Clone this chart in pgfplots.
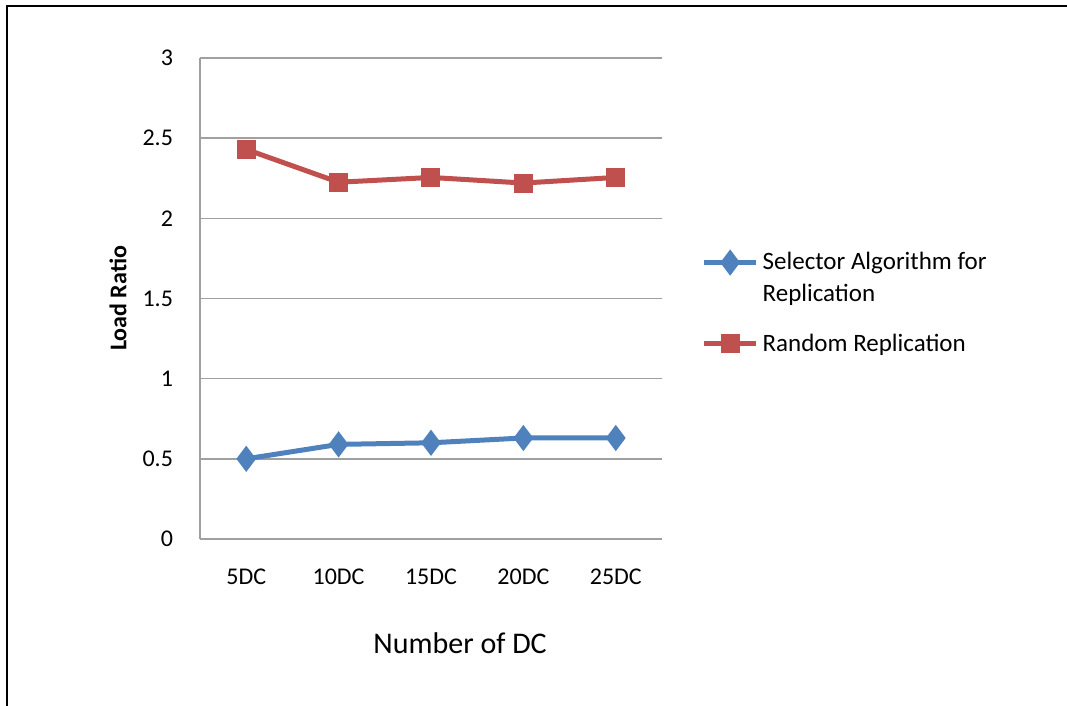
\documentclass[border=0pt]{standalone}
\usepackage{fontspec}
\setmainfont{Carlito}
\usepackage{pgfplots}
\pgfplotsset{compat=1.18}
\definecolor{sblue}{HTML}{4F81BD}
\definecolor{sred}{HTML}{C0504D}
\definecolor{gridgray}{HTML}{A0A0A0}
\pgfplotsset{upimg/.style={legend image code/.code={\draw[mark repeat=2,mark phase=2,##1] plot coordinates {(0pt,8pt) (13pt,8pt) (26pt,8pt)};}}}
\begin{document}
\begin{tikzpicture}
\useasboundingbox (0,0) rectangle (533.5pt,353pt);
\draw[line width=1pt,black] (3.5pt,0pt) -- (3.5pt,350pt) -- (533.5pt,350pt);
\begin{axis}[
  at={(100pt,83.5pt)}, anchor=south west,
  scale only axis, width=231pt, height=240.5pt,
  xmin=-0.5, xmax=4.5, ymin=0, ymax=3,
  xtick={0,1,2,3,4}, xticklabels={5DC,10DC,15DC,20DC,25DC},
  ytick={0,0.5,1,1.5,2,2.5,3},
  yticklabels={0,0.5,1,1.5,2,2.5,3},
  major tick length=0pt,
  axis x line*=bottom, axis y line*=left,
  axis line style={gridgray, line width=0.8pt, -},
  ymajorgrids, major grid style={gridgray, line width=0.8pt},
  tick label style={font=\fontsize{12}{14}\selectfont, black},
  xticklabel style={anchor=base, yshift=-23pt},
  yticklabel style={anchor=east, xshift=-10pt},
  xlabel={Number of DC},
  xlabel style={at={(axis description cs:0.563,-0.216)}, anchor=center, font=\fontsize{15}{18}\selectfont},
  ylabel={\textbf{Load Ratio}},
  ylabel style={at={(axis description cs:-0.1775,0.5)}, anchor=center, font=\fontsize{12}{14}\selectfont},
  legend style={at={(axis description cs:1.085,0.605)}, anchor=north west, draw=none, fill=none,
    font=\fontsize{12.5}{16}\selectfont, cells={align=left}, row sep=10.5pt, inner sep=0pt},
  legend cell align=left,
  legend image code/.code={\draw[mark repeat=2,mark phase=2,#1] plot coordinates {(0pt,0pt) (13pt,0pt) (26pt,0pt)};},
  clip=false,
]
\addplot[sblue, line width=2.5pt, mark=diamond*, mark size=4.5pt, mark options={solid}, upimg] coordinates {
  (0,0.50) (1,0.59) (2,0.60) (3,0.63) (4,0.63)};
\addlegendentry{Selector Algorithm for\\Replication}
\addplot[sred, line width=2.5pt, mark=square*, mark size=3.5pt, mark options={solid}] coordinates {
  (0,2.43) (1,2.225) (2,2.255) (3,2.22) (4,2.255)};
\addlegendentry{Random Replication}
\end{axis}
\end{tikzpicture}
\end{document}
